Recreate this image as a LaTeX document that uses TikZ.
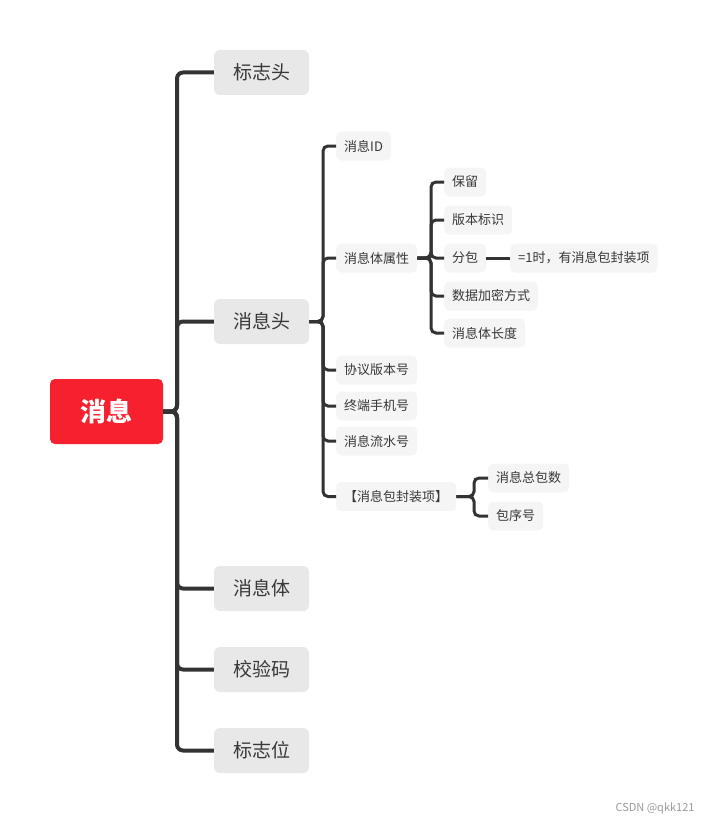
\documentclass[tikz,border=0pt]{standalone}
\usepackage{fontspec}
\setmainfont{Noto Sans CJK SC}
\usepackage{tikz}
\usetikzlibrary{positioning}

\definecolor{rootred}{HTML}{F7202E}
\definecolor{topicgray}{HTML}{E8E8E8}
\definecolor{subgray}{HTML}{F5F5F5}
\definecolor{linegray}{HTML}{333333}
\definecolor{txtgray}{HTML}{383838}
\definecolor{markgray}{HTML}{9A9A9A}

\begin{document}
\begin{tikzpicture}[x=1pt,y=-1pt,
  rootbox/.style={fill=rootred,text=white,rounded corners=5pt,minimum width=113pt,
    minimum height=65pt,font=\fontsize{26}{30}\selectfont\bfseries},
  topicbox/.style={fill=topicgray,text=txtgray,rounded corners=6pt,minimum width=95pt,
    minimum height=45pt,font=\fontsize{19}{22}\selectfont},
  subbox/.style={fill=subgray,text=txtgray,rounded corners=5pt,inner xsep=8pt,
    minimum height=29pt,anchor=west,font=\fontsize{13}{15}\selectfont},
  link/.style={draw=linegray,line width=4pt,rounded corners=6pt},
  sublink/.style={draw=linegray,line width=3pt,rounded corners=5pt}]
  \useasboundingbox (0,0) rectangle (712,824);
  % Root
  \node[rootbox] (msg) at (106.5,411.5) {消息};
  % Main parts
  \node[topicbox] (flaghead) at (261.5,72.5) {标志头};
  \node[topicbox] (header) at (261.5,321.5) {消息头};
  \node[topicbox] (body) at (261.5,588.5) {消息体};
  \node[topicbox] (check) at (261.5,669.5) {校验码};
  \node[topicbox] (flagtail) at (261.5,750.5) {标志位};
  \coordinate (fork0) at (177,411.5);
  \foreach \n in {flaghead,header,body,check,flagtail}
    \draw[link] (msg.east) -- (fork0) |- (\n.west);
  % Header fields
  \node[subbox] (msgid) at (336,146) {消息ID};
  \node[subbox] (attr) at (336,258) {消息体属性};
  \node[subbox] (ver) at (336,370) {协议版本号};
  \node[subbox] (phone) at (336,406) {终端手机号};
  \node[subbox] (serial) at (336,441) {消息流水号};
  \node[subbox] (pack) at (336,496.5) {【消息包封装项】};
  \coordinate (fork1) at (323,321.5);
  \foreach \n in {msgid,attr,ver,phone,serial,pack}
    \draw[sublink] (header.east) -- (fork1) |- (\n.west);
  % Body attribute bits
  \node[subbox] (keep) at (444,182) {保留};
  \node[subbox] (verflag) at (444,220) {版本标识};
  \node[subbox] (split) at (444,258) {分包};
  \node[subbox] (crypt) at (444,296) {数据加密方式};
  \node[subbox] (len) at (444,333) {消息体长度};
  \node[subbox] (splitnote) at (510,258) {=1时，有消息包封装项};
  \coordinate (fork2) at (431,258);
  \foreach \n in {keep,verflag,split,crypt,len}
    \draw[sublink] (attr.east) -- (fork2) |- (\n.west);
  \draw[sublink] (split.east) -- (splitnote.west);
  % Package items
  \node[subbox] (total) at (488,478) {消息总包数};
  \node[subbox] (seq) at (488,516) {包序号};
  \coordinate (fork3) at (474,496.5);
  \foreach \n in {total,seq}
    \draw[sublink] (pack.east) -- (fork3) |- (\n.west);
  % Watermark
  \node[anchor=east,text=markgray,font=\fontsize{11}{13}\selectfont] (mark) at (698,808) {CSDN @qkk121};
\end{tikzpicture}
\end{document}
